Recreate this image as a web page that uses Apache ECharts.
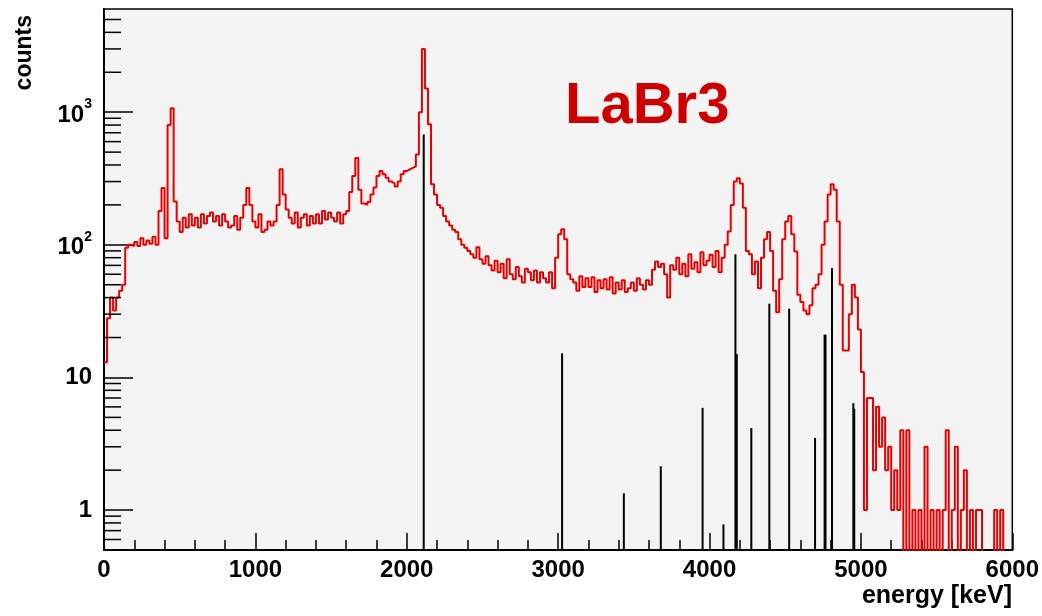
<!DOCTYPE html>
<html>
<head>
<meta charset="utf-8">
<script src="https://cdn.jsdelivr.net/npm/echarts@6/dist/echarts.min.js"></script>
<style>
html,body{margin:0;padding:0;background:#fff;}
#chart{width:1042px;height:616px;}
</style>
</head>
<body>
<div id="chart"></div>
<script>
// Histogram: 20 keV bins starting at 0 keV (counts per bin)
const binStart = 0;
const binWidth = 20;
const counts = [
  13, 28, 40, 32, 40,      45, 50, 95, 100, 98,
  105, 98, 112, 100, 108,  102, 115, 100, 180, 268,
  112, 800, 1070, 212, 150, 125, 160, 135, 170, 140,
  160, 135, 170, 145, 165, 175, 150, 165, 140, 170,
  150, 135, 140, 165, 130, 160, 200, 268, 200, 150,
  135, 170, 125, 130, 150, 140, 150, 200, 372, 240,
  185, 160, 145, 175, 135, 160, 170, 140, 165, 145,
  170, 145, 180, 155, 175, 160, 150, 175, 145, 170,
  180, 250, 330, 452, 260, 205, 200, 210, 240, 270,
  330, 360, 340, 320, 300, 290, 275, 300, 340, 360,
  370, 380, 390, 480, 1000, 3000, 1510, 810, 286, 240,
  200, 190, 165, 150, 140, 130, 125, 110, 100, 95,
  90, 85, 80, 96, 78,      72, 82, 70, 64, 76,
  62, 72, 56, 78, 60,      55, 68, 58, 52, 66,
  62, 54, 64, 52, 62,      56, 52, 62, 47, 80,
  120, 131, 110, 60, 55,   52, 45, 58, 48, 56,
  48, 57, 44, 54, 47,      55, 46, 57, 43, 52,
  46, 54, 44, 47, 52,      45, 56, 50, 46, 54,
  50, 65, 75, 68, 72,      60, 40, 70, 65, 80,
  60, 72, 58, 85, 66,      74, 62, 88, 70, 76,
  84, 68, 90, 62, 80,      100, 126, 200, 300, 317,
  290, 190, 90, 85, 60,    75, 47, 80, 110, 125,
  90, 45, 31, 55, 110,     150, 165, 120, 89, 42,
  37, 32, 30, 35, 47,      50, 60, 100, 150, 240,
  286, 260, 150, 50, 16,   16, 30, 50, 40, 23,
  11, 1, 7, 7, 2,          6, 3, 5, 2, 3,
  1, 2, 1, 4, 0,           4, 0, 1, 0, 1,
  0, 3, 0, 1, 0,           1, 0, 1, 4, 0,
  1, 3, 0, 1, 2,           0, 1, 0, 1, 1,
  0, 0, 0, 0, 1,           0, 1, 0, 0, 0
];

// Black stick spectrum (energy keV, counts)
const lineEnergies = [2112, 3026, 3434, 3678, 3954, 4092, 4171, 4180, 4276, 4395, 4526, 4697, 4760, 4766, 4809, 4950, 4956];
const lineCounts   = [680, 15.2, 1.34, 2.14, 5.9, 0.78, 85, 15, 4.15, 36, 33, 3.5, 21, 21, 67, 6.4, 5.8];

// Axes
const xMin = 0, xMax = 6000, xStep = 1000;
const yMin = 0.5, yMax = 6000;
const yMajorTicks = [1, 10, 100, 1000];
const yMajorLabels = ['1', '10', '{b|10}{s|2}', '{b|10}{s|3}'];
const yMinorTicks = [0.6, 0.7, 0.8, 0.9,
  2, 3, 4, 5, 6, 7, 8, 9,
  20, 30, 40, 50, 60, 70, 80, 90,
  200, 300, 400, 500, 600, 700, 800, 900,
  2000, 3000, 4000, 5000];
const emptyBinValue = 0.1; // empty bins fall below the log axis floor

const FONT = '"Liberation Sans", Arial, sans-serif';

const histData = counts.map((c, i) => [binStart + i * binWidth, c > 0 ? c : emptyBinValue]);
histData.push([binStart + counts.length * binWidth, counts[counts.length - 1] > 0 ? counts[counts.length - 1] : emptyBinValue]);

const chart = echarts.init(document.getElementById('chart'), null, {renderer: 'canvas'});
chart.setOption({
  backgroundColor: '#ffffff',
  animation: false,
  grid: {left: 104, right: 26, top: 9, bottom: 66, show: true, backgroundColor: '#f3f3f3', borderColor: '#000', borderWidth: 1.5},
  xAxis: {
    type: 'value', min: xMin, max: xMax, interval: xStep,
    axisLine: {lineStyle: {color: '#000', width: 2}},
    axisTick: {inside: true, length: 17, lineStyle: {color: '#000', width: 1.5}},
    minorTick: {show: true, splitNumber: 5, length: 10, lineStyle: {color: '#000', width: 1.5}},
    splitLine: {show: false},
    axisLabel: {margin: 8, color: '#000', fontFamily: FONT, fontWeight: 'bold', fontSize: 24, formatter: v => String(v)}
  },
  yAxis: {
    type: 'log', logBase: 10, min: yMin, max: yMax,
    axisLine: {lineStyle: {color: '#000', width: 2}},
    axisTick: {inside: true, length: 29, customValues: yMajorTicks, lineStyle: {color: '#000', width: 1.5}},
    splitLine: {show: false},
    axisLabel: {
      margin: 12, color: '#000', fontFamily: FONT, fontWeight: 'bold', fontSize: 24,
      customValues: yMajorTicks,
      formatter: v => { const i = yMajorTicks.findIndex(t => Math.abs(t - v) < 1e-6 * t); return i >= 0 ? yMajorLabels[i] : ''; },
      rich: {
        b: {fontFamily: FONT, fontWeight: 'bold', fontSize: 24, color: '#000', lineHeight: 30, verticalAlign: 'bottom'},
        s: {fontFamily: FONT, fontWeight: 'bold', fontSize: 14, color: '#000', lineHeight: 30, verticalAlign: 'top'}
      }
    }
  },
  graphic: [
    {type: 'text', left: 565, top: 78, z: 10, style: {text: 'LaBr3', font: 'bold 58px ' + FONT, fill: '#cc0000'}},
    {type: 'text', x: 25, y: 15, rotation: Math.PI / 2, style: {text: 'counts', font: 'bold 23px ' + FONT, fill: '#000', align: 'right', verticalAlign: 'middle'}},
    {type: 'text', x: 1012, y: 596, style: {text: 'energy [keV]', font: 'bold 25px ' + FONT, fill: '#000', align: 'right', verticalAlign: 'middle'}}
  ],
  series: [
    {
      type: 'line', step: 'end', data: histData, showSymbol: false, symbol: 'none',
      clip: true, lineStyle: {color: '#e80000', width: 2}, z: 2
    },
    {
      type: 'custom', clip: true, z: 3,
      data: lineEnergies.map((e, i) => [e, lineCounts[i]]),
      renderItem: (params, api) => {
        const top = api.coord([api.value(0), api.value(1)]);
        const bot = api.coord([api.value(0), yMin]);
        return {type: 'line', shape: {x1: top[0], y1: top[1], x2: bot[0], y2: bot[1]}, style: {stroke: '#000', lineWidth: 2}};
      }
    },
    {
      type: 'custom', clip: false, z: 4, silent: true,
      data: yMinorTicks.map(v => [xMin, v]),
      renderItem: (params, api) => {
        const p = api.coord([api.value(0), api.value(1)]);
        return {type: 'line', shape: {x1: p[0], y1: p[1], x2: p[0] + 17, y2: p[1]}, style: {stroke: '#000', lineWidth: 1.5}};
      }
    }
  ]
});
</script>
</body>
</html>
